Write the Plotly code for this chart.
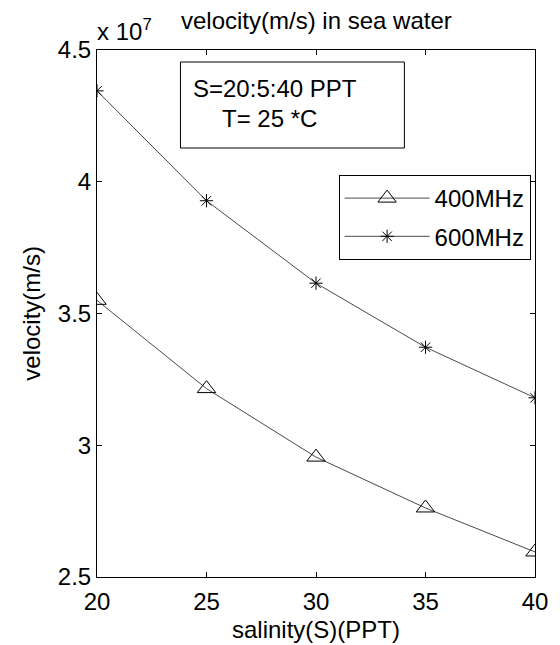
import plotly.graph_objects as go

# Data (velocity in units of 1e7 m/s)
salinity = [20, 25, 30, 35, 40]
v_400MHz = [3.55, 3.215, 2.955, 2.762, 2.595]
v_600MHz = [4.345, 3.928, 3.615, 3.372, 3.180]
x_ticks = [20, 25, 30, 35, 40]
y_ticks = [2.5, 3.0, 3.5, 4.0, 4.5]
y_ticktext = ["2.5", "3", "3.5", "4", "4.5"]

# The page body has an 8px default margin; size/offset the figure so that
# screen coordinates match the reference 560x645 picture.
OFF = 8
W, H = 560 - OFF, 645 - OFF
L, R, T, B = 97 - OFF, 543 - OFF, 50 - OFF, 577 - OFF


def px(xs):
    return (xs - OFF - L) / (R - L)


def py(ys):
    return (B - (ys - OFF)) / (B - T)


FONT = "Liberation Sans, Arial, sans-serif"
LINE = "#4a4a4a"

fig = go.Figure()
fig.add_trace(go.Scatter(
    x=salinity, y=v_400MHz, name="400MHz", mode="lines+markers", legendgroup="a",
    line=dict(color=LINE, width=1),
    marker=dict(symbol="triangle-up-open", size=16, color="black",
                line=dict(color="black", width=1)),
))
fig.add_trace(go.Scatter(
    x=salinity, y=v_600MHz, name="600MHz", mode="lines+markers", legendgroup="b",
    line=dict(color=LINE, width=1),
    marker=dict(symbol="asterisk-open", size=11, color="black",
                line=dict(color="black", width=1)),
))

axis_common = dict(
    showline=True, linecolor="black", linewidth=1, mirror="allticks",
    ticks="inside", ticklen=5, tickcolor="black", tickwidth=1,
    showgrid=False, zeroline=False,
    tickfont=dict(family=FONT, size=24, color="black"),
)

fig.update_layout(
    width=W, height=H,
    margin=dict(l=L, r=W - R, t=T, b=H - B, pad=0),
    paper_bgcolor="white", plot_bgcolor="white",
    font=dict(family=FONT, size=24, color="black"),
    xaxis=dict(range=[20, 40], tickvals=x_ticks, ticktext=[str(v) for v in x_ticks],
               ticklabelstandoff=3, **axis_common),
    yaxis=dict(range=[2.5, 4.5], tickvals=y_ticks, ticktext=y_ticktext,
               **axis_common),
    showlegend=True,
    legend=dict(x=px(343), y=py(175), xanchor="left", yanchor="top",
                bgcolor="white", bordercolor="black", borderwidth=1,
                font=dict(family=FONT, size=24, color="black"),
                itemwidth=85, tracegroupgap=4),
)

# Text box
fig.add_shape(type="rect", xref="paper", yref="paper",
              x0=px(182), x1=px(410), y0=py(148), y1=py(62),
              line=dict(color="black", width=1), fillcolor="white", layer="above")
fig.add_annotation(xref="paper", yref="paper", x=px(193), y=py(89),
                   text="S=20:5:40 PPT", showarrow=False, xanchor="left", yanchor="middle",
                   font=dict(family=FONT, size=24, color="black"))
fig.add_annotation(xref="paper", yref="paper", x=px(222), y=py(118),
                   text="T= 25 *C", showarrow=False, xanchor="left", yanchor="middle",
                   font=dict(family=FONT, size=24, color="black"))

# Title and exponent
fig.add_annotation(xref="paper", yref="paper", x=px(320), y=py(20),
                   text="velocity(m/s) in sea water", showarrow=False,
                   xanchor="center", yanchor="middle",
                   font=dict(family=FONT, size=24, color="black"))
fig.add_annotation(xref="paper", yref="paper", x=px(95), y=py(30),
                   text="x 10<sup>7</sup>", showarrow=False,
                   xanchor="left", yanchor="middle",
                   font=dict(family=FONT, size=24, color="black"))

# Axis titles
fig.add_annotation(xref="paper", yref="paper", x=px(320), y=py(629),
                   text="salinity(S)(PPT)", showarrow=False,
                   xanchor="center", yanchor="middle",
                   font=dict(family=FONT, size=24, color="black"))
fig.add_annotation(xref="paper", yref="paper", x=px(30), y=0.5,
                   text="velocity(m/s)", showarrow=False, textangle=-90,
                   xanchor="center", yanchor="middle",
                   font=dict(family=FONT, size=24, color="black"))

fig.write_html("out.html")
